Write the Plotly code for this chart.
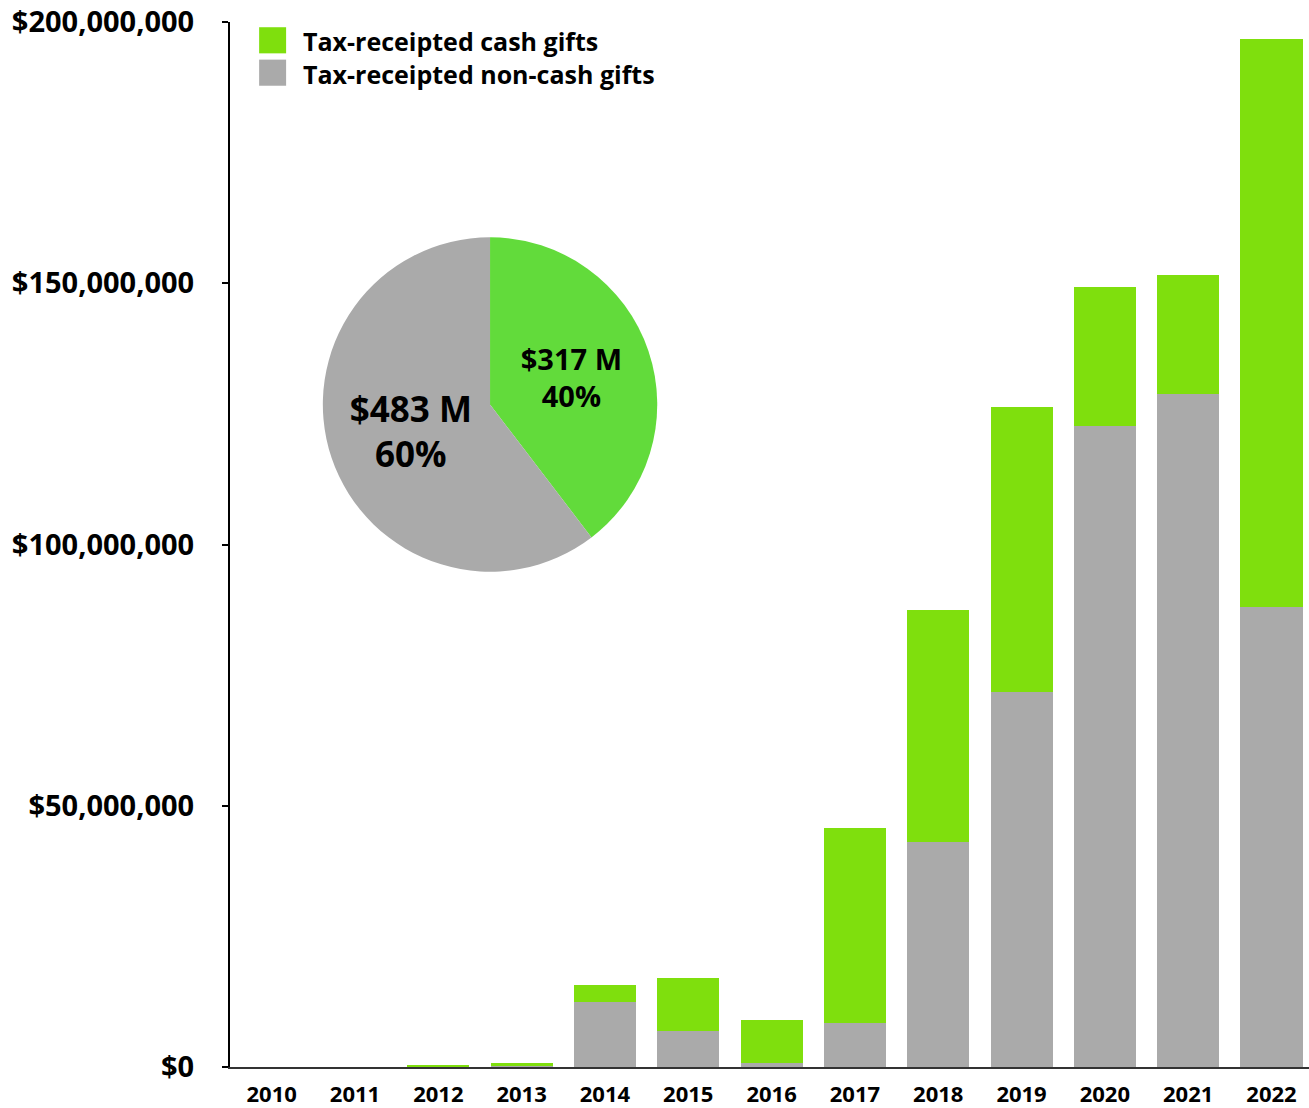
import plotly.graph_objects as go

years = ["2010", "2011", "2012", "2013", "2014", "2015", "2016",
         "2017", "2018", "2019", "2020", "2021", "2022"]
# values in millions of dollars
cash_m = [0.0, 0.0, 0.4, 0.7, 3.2, 10.1, 8.3, 37.3, 44.4, 54.6, 26.6, 22.7, 108.7]
noncash_m = [0.0, 0.0, 0.0, 0.1, 12.4, 6.9, 0.7, 8.4, 43.0, 71.7, 122.6, 128.8, 88.0]

pie_labels = ["Tax-receipted cash gifts", "Tax-receipted non-cash gifts"]
pie_values_m = [317, 483]

ytick_vals = [0, 50_000_000, 100_000_000, 150_000_000, 200_000_000]
ytick_text = ["$0", "$50,000,000", "$100,000,000", "$150,000,000", "$200,000,000"]

GREEN = "#7FDF0D"
PIE_GREEN = "#62DB3B"
GREY = "#AAAAAA"
FONT = "Open Sans"

cash = [v * 1e6 for v in cash_m]
noncash = [v * 1e6 for v in noncash_m]

fig = go.Figure()
fig.add_trace(go.Bar(x=years, y=noncash, name=pie_labels[1], marker_color=GREY,
                     marker_line_width=0, showlegend=False))
fig.add_trace(go.Bar(x=years, y=cash, name=pie_labels[0], marker_color=GREEN,
                     marker_line_width=0, showlegend=False))

fig.add_trace(go.Pie(
    labels=pie_labels, values=pie_values_m,
    marker=dict(colors=[PIE_GREEN, GREY], line=dict(width=0)),
    sort=False, direction="clockwise", rotation=0,
    texttemplate="$%{value} M<br>%{percent:.0%}",
    textposition="inside", insidetextorientation="horizontal",
    textfont=dict(family=FONT, size=[29, 35], color="black", weight="bold"),
    domain=dict(x=[0.086, 0.396], y=[0.474, 0.794]),
    showlegend=False, hoverinfo="label+value+percent",
))

# custom legend (swatches + labels)
legend_colors = [GREEN, GREY]
for i, col in enumerate(legend_colors):
    y_top = 0.995 - i * 0.031
    fig.add_shape(type="rect", xref="paper", yref="paper",
                  x0=0.027, x1=0.052, y0=y_top - 0.025, y1=y_top,
                  fillcolor=col, line_width=0)
fig.add_annotation(xref="paper", yref="paper", x=0.066, y=0.9665,
                   text="<br>".join(pie_labels), showarrow=False, align="left",
                   xanchor="left", yanchor="middle",
                   font=dict(family=FONT, size=25, color="black", weight="bold"))

fig.update_layout(
    width=1309, height=1108,
    barmode="stack", bargap=0.255,
    plot_bgcolor="white", paper_bgcolor="white",
    margin=dict(l=230, r=0, t=22, b=41, autoexpand=False),
    font=dict(family=FONT, color="black"),
    xaxis=dict(
        range=[-0.5, 12.45], showgrid=False, zeroline=False, automargin=False,
        showline=True, linecolor="#333333", linewidth=2,
        ticks="", ticklabelstandoff=7,
        tickfont=dict(family=FONT, size=22, weight="bold"),
    ),
    yaxis=dict(
        range=[0, 200_000_000], tickvals=ytick_vals, ticktext=ytick_text,
        showgrid=False, zeroline=False, automargin=False,
        showline=True, linecolor="black", linewidth=2,
        ticks="outside", ticklen=6, tickwidth=2, tickcolor="black",
        ticklabelstandoff=22, ticklabeloverflow="allow",
        tickfont=dict(family=FONT, size=29, weight="bold"),
    ),
)

fig.write_html(
    "out.html",
    config={"displayModeBar": False},
    post_script="document.body.style.margin='0';document.body.style.overflow='hidden';",
)
